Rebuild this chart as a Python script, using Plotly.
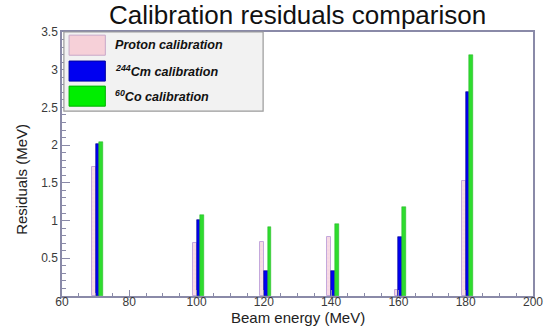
import plotly.graph_objects as go

energies = [70, 100, 120, 140, 160, 180]
proton = [1.71, 0.70, 0.72, 0.78, 0.08, 1.52]
cm244 = [2.02, 1.01, 0.335, 0.335, 0.78, 2.70]
co60 = [2.04, 1.08, 0.91, 0.955, 1.18, 3.20]
x_ticks = [60, 80, 100, 120, 140, 160, 180, 200]
y_ticks = [0.5, 1, 1.5, 2, 2.5, 3, 3.5]
legend_labels = ["<b><i>Proton calibration</i></b>",
                 "<b><i><sup>244</sup>Cm calibration</i></b>",
                 "<b><i><sup>60</sup>Co calibration</i></b>"]

fig = go.Figure()
fig.add_trace(go.Bar(x=energies, y=proton, width=1.1, offset=-1.1,
                     marker=dict(color="#f7dce6", line=dict(color="#c4a8dc", width=1),
                                 pattern=dict(shape="+", fgcolor="#f0c4d0", size=4, solidity=0.2)),
                     name="Proton calibration", showlegend=False))
fig.add_trace(go.Bar(x=energies, y=cm244, width=1.1, offset=0,
                     marker=dict(color="#0000f0", line=dict(color="#00008a", width=0.6)),
                     name="244Cm calibration", showlegend=False))
fig.add_trace(go.Bar(x=energies, y=co60, width=1.1, offset=1.1,
                     marker=dict(color="#2edc2e", line=dict(color="#22b022", width=0.5)),
                     name="60Co calibration", showlegend=False))

axis_line = "#8a8aa8"
fig.update_xaxes(range=[60, 200], tickvals=x_ticks, ticktext=[str(v) for v in x_ticks],
                 ticks="inside", ticklen=6, tickcolor=axis_line, tickwidth=1,
                 minor=dict(ticks="inside", dtick=5, tick0=60, ticklen=3, tickcolor=axis_line),
                 showline=True, linecolor=axis_line, linewidth=1.5, mirror=True,
                 showgrid=False, zeroline=False, automargin=False, ticklabelstandoff=-6,
                 tickfont=dict(family="Liberation Sans, Arial", size=12, color="#3a3a3a"))
fig.update_yaxes(range=[0, 3.5], tickvals=y_ticks, ticktext=[("%g" % v) for v in y_ticks],
                 ticks="inside", ticklen=8, tickcolor=axis_line, tickwidth=1,
                 minor=dict(ticks="inside", dtick=0.1, tick0=0, ticklen=4, tickcolor=axis_line),
                 showline=True, linecolor=axis_line, linewidth=1.5, mirror=True,
                 showgrid=False, zeroline=False, automargin=False,
                 tickfont=dict(family="Liberation Sans, Arial", size=12, color="#3a3a3a"))

# Legend box (ROOT style)
fig.add_shape(type="rect", xref="paper", yref="paper", x0=0.004, x1=0.427, y0=0.70, y1=1.0,
              fillcolor="#f2f2f2", line=dict(color="#9a9a9a", width=1.2), layer="above")
sw_colors = ["#f6d0d8", "#0000f0", "#00ee00"]
sw_lines = ["#c8a8c8", "#0000a0", "#00b000"]
row_y = [0.95, 0.852, 0.757]
for i in range(3):
    fig.add_shape(type="rect", xref="paper", yref="paper", x0=0.015, x1=0.092,
                  y0=row_y[i] - 0.038, y1=row_y[i] + 0.038,
                  fillcolor=sw_colors[i], line=dict(color=sw_lines[i], width=1), layer="above")
    fig.add_annotation(xref="paper", yref="paper", x=0.108, y=row_y[i], xanchor="left",
                       yanchor="middle", text=legend_labels[i], showarrow=False,
                       font=dict(family="Liberation Sans, Arial", size=12.6, color="#111"))

fig.add_annotation(xref="paper", yref="paper", x=0.5, y=1.0, yshift=17, text="Calibration residuals comparison",
                   showarrow=False, xanchor="center", yanchor="middle",
                   font=dict(family="Liberation Sans, Arial", size=26, color="#111"))
fig.add_annotation(xref="paper", yref="paper", x=0.5, y=0, yshift=-21, text="Beam energy (MeV)",
                   showarrow=False, xanchor="center", yanchor="middle",
                   font=dict(family="Liberation Sans, Arial", size=15, color="#222"))
fig.add_annotation(xref="paper", yref="paper", x=0, xshift=-40, y=0.44, text="Residuals (MeV)",
                   textangle=-90, showarrow=False, xanchor="center", yanchor="middle",
                   font=dict(family="Liberation Sans, Arial", size=15, color="#222"))

fig.update_layout(width=545, height=329, margin=dict(l=62, r=12, t=32, b=33, autoexpand=False),
                  paper_bgcolor="white", plot_bgcolor="white", barmode="overlay",
                  bargap=0, showlegend=False)
fig.write_html("out.html", config={"displayModeBar": False},
               post_script="document.body.style.margin='0';document.body.style.padding='0';"
                           "document.body.style.overflow='hidden';")
